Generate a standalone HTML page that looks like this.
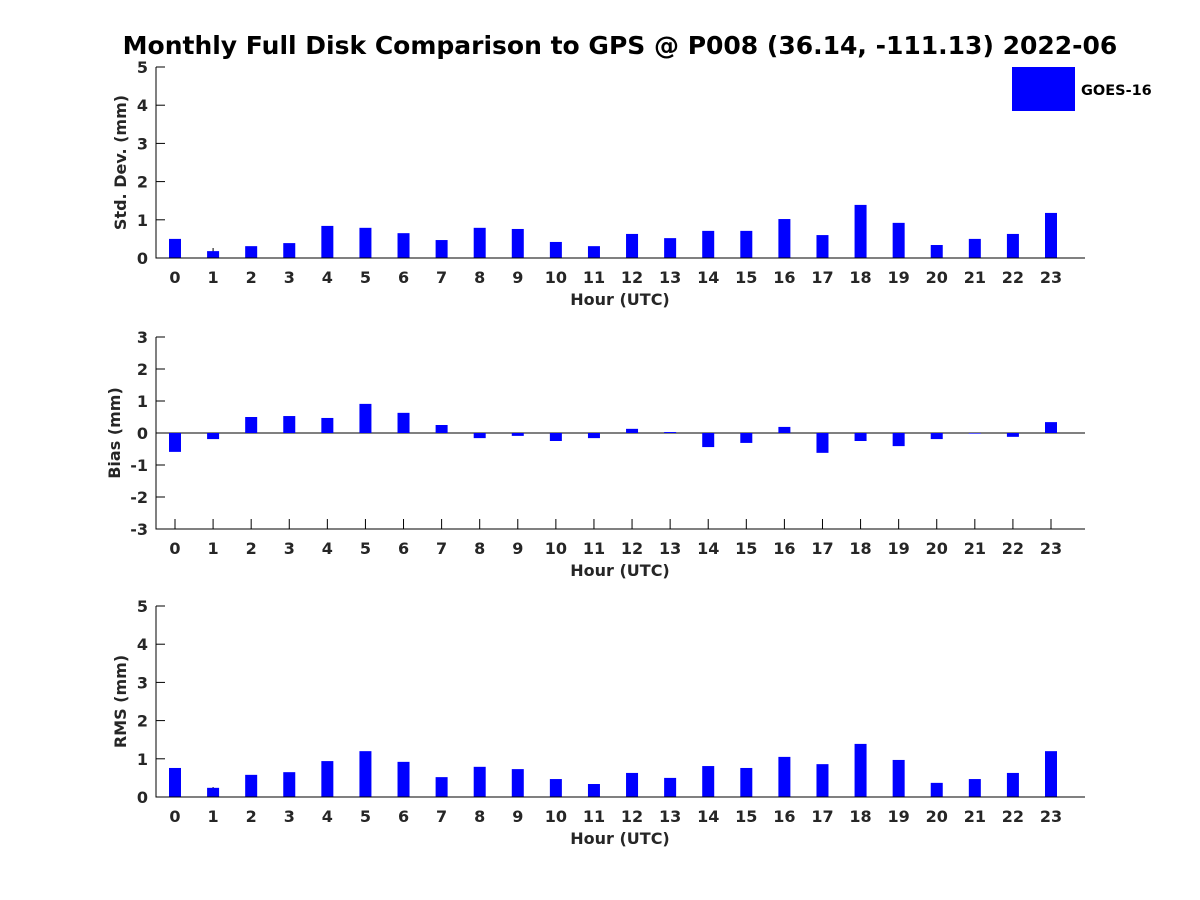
<!DOCTYPE html>
<html><head><meta charset="utf-8"><style>
body{margin:0;background:#fff}
svg{display:block;font-family:"DejaVu Sans","Liberation Sans",sans-serif;font-weight:bold}
</style></head><body>
<svg id="chart" width="1200" height="900">
<text x="620" y="54" text-anchor="middle" font-size="25" fill="#000">Monthly Full Disk Comparison to GPS @ P008 (36.14, -111.13) 2022-06</text>
<rect x="1012" y="67" width="63" height="44" fill="#0000ff"/>
<text x="1081" y="95" font-size="14.5" fill="#000">GOES-16</text>
</svg>
<script>
const hours=[0,1,2,3,4,5,6,7,8,9,10,11,12,13,14,15,16,17,18,19,20,21,22,23];
const stdValues=[0.50,0.18,0.31,0.39,0.84,0.79,0.65,0.47,0.79,0.76,0.42,0.31,0.63,0.52,0.71,0.71,1.02,0.60,1.39,0.92,0.34,0.50,0.63,1.18];
const biasValues=[-0.59,-0.19,0.50,0.53,0.47,0.91,0.63,0.25,-0.16,-0.09,-0.25,-0.16,0.13,0.03,-0.44,-0.31,0.19,-0.62,-0.25,-0.41,-0.19,-0.02,-0.12,0.34];
const rmsValues=[0.76,0.24,0.58,0.65,0.94,1.20,0.92,0.52,0.79,0.73,0.47,0.34,0.63,0.50,0.81,0.76,1.05,0.86,1.39,0.97,0.37,0.47,0.63,1.20];
const stdTicks=[0,1,2,3,4,5];
const biasTicks=[-3,-2,-1,0,1,2,3];
const rmsTicks=[0,1,2,3,4,5];
const svg=document.getElementById('chart');
const NS='http://www.w3.org/2000/svg';
function mk(t,a){const e=document.createElementNS(NS,t);for(const k in a)e.setAttribute(k,a[k]);svg.appendChild(e);return e;}
function panel(name,vals,ticks,top,bottom,ylabel){
  const L=156,R=1085,ymin=ticks[0],ymax=ticks[ticks.length-1];
  const y=v=>bottom-(v-ymin)/(ymax-ymin)*(bottom-top);
  const x=h=>175+h*(1051-175)/23;
  ticks.forEach(t=>{
    mk('line',{x1:L,x2:L+9,y1:y(t),y2:y(t),stroke:'#000'});
    const tl=mk('text',{x:L-8,y:y(t)+6,'text-anchor':'end','font-size':16,fill:'#262626'});
    tl.textContent=t;
    
  });
  hours.forEach(h=>{
    mk('line',{x1:x(h),x2:x(h),y1:bottom,y2:bottom-10,stroke:'#000'});
    const tl=mk('text',{x:x(h),y:bottom+25,'text-anchor':'middle','font-size':16,fill:'#262626'});
    tl.textContent=h;
    
  });
  if(ymin<0){const z=mk('line',{x1:L,x2:R,y1:y(0),y2:y(0),stroke:'#000','stroke-width':1});
    }
  vals.forEach((v,i)=>{
    const y0=y(0),y1=y(v);
    const b=mk('rect',{x:x(hours[i])-6,y:Math.min(y0,y1),width:12,height:Math.max(Math.abs(y1-y0),0.5),fill:'#0000ff'});
    
    
  });
  const ax=mk('path',{d:`M${L},${top}V${bottom}H${R}`,fill:'none',stroke:'#000','stroke-width':1});
  
  const xt=mk('text',{x:620,y:bottom+47,'text-anchor':'middle','font-size':16,fill:'#262626'});
  xt.textContent='Hour (UTC)';
  
  const cy=(top+bottom)/2;
  const yt=mk('text',{x:0,y:0,'text-anchor':'middle','font-size':16,fill:'#262626',transform:`translate(${ymin<0?120:126},${cy}) rotate(-90)`});
  yt.textContent=ylabel;
  
}
panel('std-dev',stdValues,stdTicks,67,258,'Std. Dev. (mm)');
panel('bias',biasValues,biasTicks,337,529,'Bias (mm)');
panel('rms',rmsValues,rmsTicks,606,797,'RMS (mm)');
</script>
</body></html>
